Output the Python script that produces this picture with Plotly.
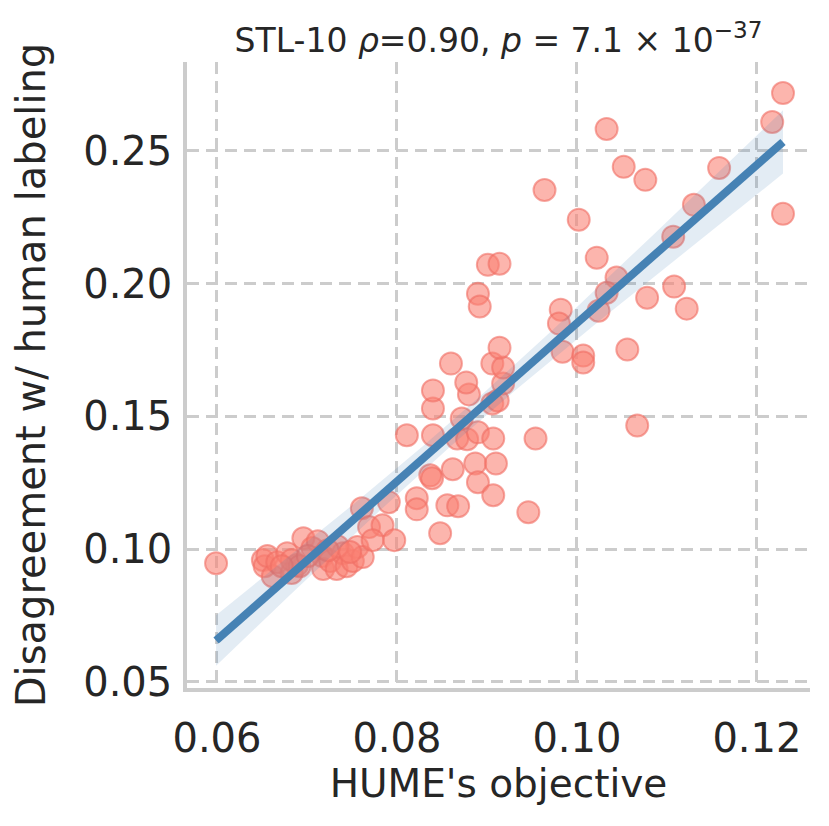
import numpy as np
import plotly.graph_objects as go

# HUME's objective vs disagreement with human labeling (STL-10)
hume_obj = [
    0.0599, 0.0651, 0.0653, 0.0656, 0.0662, 0.0667, 0.0678, 0.0683, 0.0689, 0.0683,
    0.0696, 0.0692, 0.0706, 0.0712, 0.0717, 0.0718, 0.0726, 0.0733, 0.0740, 0.0744,
    0.0751, 0.0756, 0.0762, 0.0734, 0.0723, 0.0701, 0.0672, 0.0748, 0.0761, 0.0791,
    0.0769, 0.0784, 0.0773, 0.0797,
    0.0822, 0.0822, 0.0848, 0.0856, 0.0868, 0.0837, 0.0839, 0.0862, 0.0887, 0.0910,
    0.0890, 0.0907, 0.0946, 0.0811, 0.0840, 0.0867, 0.0878, 0.0890, 0.0907, 0.0954,
    0.0872, 0.0840, 0.0906, 0.0912, 0.0840, 0.0880, 0.0877, 0.0918, 0.0860, 0.0906,
    0.0918, 0.0914, 0.0890, 0.0892, 0.0901, 0.0914,
    0.0964, 0.1002, 0.1033, 0.1052, 0.1076, 0.1158, 0.1130, 0.1107, 0.1229, 0.1229,
    0.1217, 0.1022, 0.1044, 0.1033, 0.1024, 0.0982, 0.0980, 0.0984, 0.1007, 0.1007,
    0.1056, 0.1078, 0.1108, 0.1122, 0.1067,
]
disagreement = [
    0.0947, 0.0959, 0.0936, 0.0974, 0.0898, 0.0951, 0.0985, 0.0910, 0.0940, 0.0959,
    0.1041, 0.0936, 0.1004, 0.1030, 0.0974, 0.0925, 0.0955, 0.0925, 0.0985, 0.0936,
    0.0955, 0.1008, 0.0970, 0.1011, 0.0996, 0.0974, 0.0936, 0.0989, 0.1154, 0.1177,
    0.1083, 0.1090, 0.1034, 0.1034,
    0.1192, 0.1150, 0.1060, 0.1165, 0.1162, 0.1278, 0.1267, 0.1301, 0.1323, 0.1323,
    0.1252, 0.1203, 0.1139, 0.1429, 0.1429, 0.1417, 0.1414, 0.1440, 0.1417, 0.1417,
    0.1492, 0.1530, 0.1549, 0.1560, 0.1598, 0.1583, 0.1628, 0.1624, 0.1699, 0.1699,
    0.1684, 0.1759, 0.1962, 0.1914, 0.2071, 0.2075,
    0.2353, 0.2241, 0.2583, 0.2440, 0.2391, 0.2436, 0.2297, 0.2177, 0.2263, 0.2718,
    0.2609, 0.2098, 0.2023, 0.1966, 0.1898, 0.1902, 0.1850, 0.1744, 0.1729, 0.1703,
    0.1752, 0.1947, 0.1989, 0.1906, 0.1466,
]
x_ticks = [0.06, 0.08, 0.10, 0.12]
y_ticks = [0.05, 0.10, 0.15, 0.20, 0.25]

x = np.array(hume_obj)
y = np.array(disagreement)

# linear fit + 95% confidence band (like seaborn regplot)
n = len(x)
slope, intercept = np.polyfit(x, y, 1)
xs = np.linspace(x.min(), x.max(), 100)
ys = slope * xs + intercept
resid = y - (slope * x + intercept)
s = np.sqrt(np.sum(resid ** 2) / (n - 2))
se = s * np.sqrt(1 / n + (xs - x.mean()) ** 2 / np.sum((x - x.mean()) ** 2))
lo = ys - 1.985 * se
hi = ys + 1.985 * se

fig = go.Figure()
fig.add_trace(go.Scatter(
    x=x, y=y, mode="markers",
    marker=dict(size=22, color="rgba(250,128,114,0.58)",
                line=dict(color="rgba(240,110,100,0.6)", width=2)),
    showlegend=False,
))
fig.add_trace(go.Scatter(
    x=np.concatenate([xs, xs[::-1]]), y=np.concatenate([hi, lo[::-1]]),
    fill="toself", fillcolor="rgba(70,130,180,0.15)", line=dict(width=0),
    mode="lines", showlegend=False, hoverinfo="skip",
))
fig.add_trace(go.Scatter(
    x=xs, y=ys, mode="lines", line=dict(color="#4682b4", width=8),
    showlegend=False,
))

axis_common = dict(
    showgrid=True, gridcolor="#cccccc", gridwidth=2.5, griddash="12px,7px",
    showline=True, linecolor="#cccccc", linewidth=3.5,
    zeroline=False, ticks="", tickfont=dict(size=40, color="#262626"),
)

# page has ~8px body margin, so margins are shifted by that
fig.update_layout(
    width=829, height=826,
    margin=dict(l=179, r=27, t=54, b=146),
    paper_bgcolor="white", plot_bgcolor="white",
    font=dict(family="DejaVu Sans", color="#262626"),
    title=dict(
        text="STL-10 <i>ρ</i>=0.90, <i>p</i> = 7.1 × 10<sup>−37</sup>",
        font=dict(size=33, color="#262626"),
        x=0.5, xref="paper", xanchor="center",
        y=1 - 32 / 826, yref="container", yanchor="middle",
    ),
    xaxis=dict(
        range=[0.05667, 0.1259], tickvals=x_ticks, tickformat=".2f",
        title=dict(text="HUME's objective", font=dict(size=39), standoff=10),
        ticklabelstandoff=12,
        **axis_common,
    ),
    yaxis=dict(
        range=[0.0477, 0.2835], tickvals=y_ticks, tickformat=".2f",
        title=dict(text="Disagreement w/ human labeling", font=dict(size=40), standoff=28),
        ticklabelstandoff=3,
        **axis_common,
    ),
)

fig.write_html("out.html")
